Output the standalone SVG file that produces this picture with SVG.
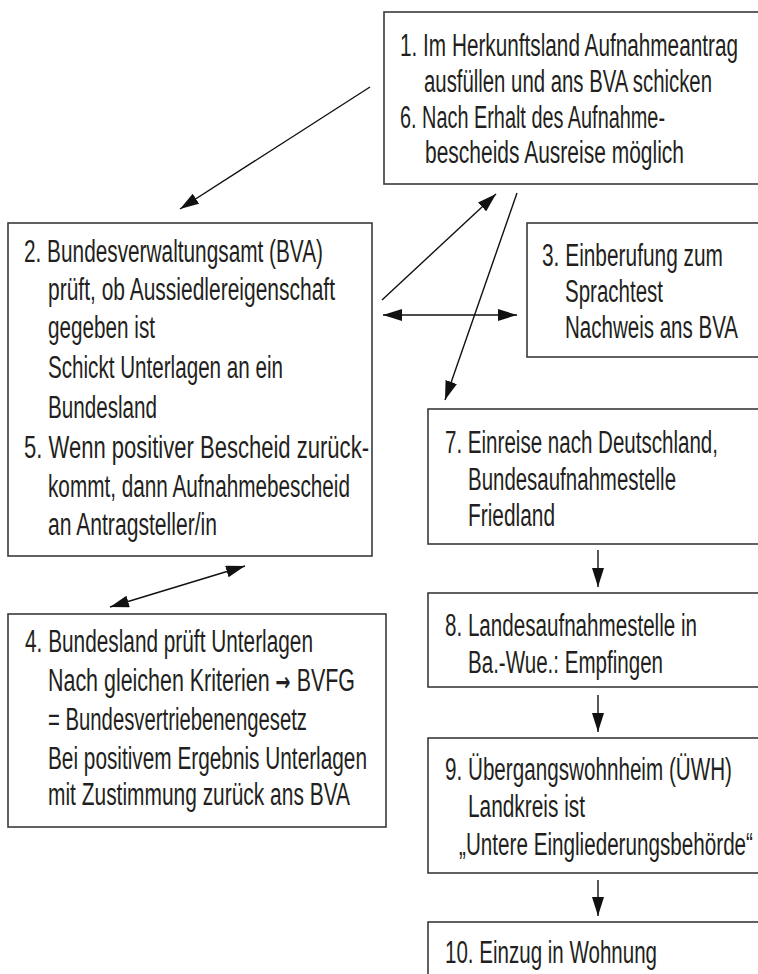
<svg xmlns="http://www.w3.org/2000/svg" width="758" height="974" viewBox="0 0 758 974">
<style>
.box{fill:#fff;stroke:#3a3a3a;stroke-width:1.6}
.t{font-family:"Liberation Sans",Arial,sans-serif;font-size:31px;fill:#231f20}
.c{stroke:#111;stroke-width:1.4;fill:none}
.ar{font-family:"DejaVu Sans",sans-serif;font-weight:bold;font-size:26px}
</style>
<defs>
<marker id="ah" markerUnits="userSpaceOnUse" markerWidth="19" markerHeight="12" refX="19" refY="6" orient="auto-start-reverse" viewBox="0 0 19 12">
<path d="M0,0 L19,6 L0,12 z" fill="#111"/>
</marker>
</defs>
<rect width="758" height="974" fill="#fff"/>
<g id="node1">
<rect class="box" x="384" y="12" width="390" height="172"/>
<text class="t" x="400" y="56" textLength="338" lengthAdjust="spacingAndGlyphs">1. Im Herkunftsland Aufnahmeantrag</text>
<text class="t" x="424" y="92" textLength="288" lengthAdjust="spacingAndGlyphs">ausfüllen und ans BVA schicken</text>
<text class="t" x="400" y="128" textLength="265" lengthAdjust="spacingAndGlyphs">6. Nach Erhalt des Aufnahme-</text>
<text class="t" x="425" y="163" textLength="259" lengthAdjust="spacingAndGlyphs">bescheids Ausreise möglich</text>
</g>
<g id="node2">
<rect class="box" x="8" y="223" width="364" height="333"/>
<text class="t" x="24" y="262" textLength="299" lengthAdjust="spacingAndGlyphs">2. Bundesverwaltungsamt (BVA)</text>
<text class="t" x="48" y="300" textLength="287" lengthAdjust="spacingAndGlyphs">prüft, ob Aussiedlereigenschaft</text>
<text class="t" x="48" y="338" textLength="107" lengthAdjust="spacingAndGlyphs">gegeben ist</text>
<text class="t" x="48" y="378" textLength="235" lengthAdjust="spacingAndGlyphs">Schickt Unterlagen an ein</text>
<text class="t" x="48" y="418" textLength="109" lengthAdjust="spacingAndGlyphs">Bundesland</text>
<text class="t" x="24" y="458" textLength="345" lengthAdjust="spacingAndGlyphs">5. Wenn positiver Bescheid zurück-</text>
<text class="t" x="48" y="497" textLength="302" lengthAdjust="spacingAndGlyphs">kommt, dann Aufnahmebescheid</text>
<text class="t" x="48" y="535" textLength="169" lengthAdjust="spacingAndGlyphs">an Antragsteller/in</text>
</g>
<g id="node3">
<rect class="box" x="527" y="223" width="250" height="134"/>
<text class="t" x="542" y="266" textLength="181" lengthAdjust="spacingAndGlyphs">3. Einberufung zum</text>
<text class="t" x="565" y="302" textLength="98" lengthAdjust="spacingAndGlyphs">Sprachtest</text>
<text class="t" x="565" y="338" textLength="173" lengthAdjust="spacingAndGlyphs">Nachweis ans BVA</text>
</g>
<g id="node4">
<rect class="box" x="8" y="614" width="378" height="213"/>
<text class="t" x="25" y="652" textLength="288" lengthAdjust="spacingAndGlyphs">4. Bundesland prüft Unterlagen</text>
<text class="t" x="48" y="691" textLength="307" lengthAdjust="spacingAndGlyphs">Nach gleichen Kriterien <tspan class="ar">→</tspan> BVFG</text>
<text class="t" x="48" y="730" textLength="259" lengthAdjust="spacingAndGlyphs">= Bundesvertriebenengesetz</text>
<text class="t" x="48" y="769" textLength="319" lengthAdjust="spacingAndGlyphs">Bei positivem Ergebnis Unterlagen</text>
<text class="t" x="48" y="805" textLength="302" lengthAdjust="spacingAndGlyphs">mit Zustimmung zurück ans BVA</text>
</g>
<g id="node7">
<rect class="box" x="428" y="409" width="350" height="135"/>
<text class="t" x="445" y="453" textLength="273" lengthAdjust="spacingAndGlyphs">7. Einreise nach Deutschland,</text>
<text class="t" x="468" y="490" textLength="208" lengthAdjust="spacingAndGlyphs">Bundesaufnahmestelle</text>
<text class="t" x="468" y="526" textLength="87" lengthAdjust="spacingAndGlyphs">Friedland</text>
</g>
<g id="node8">
<rect class="box" x="428" y="593" width="350" height="94"/>
<text class="t" x="445" y="636" textLength="252" lengthAdjust="spacingAndGlyphs">8. Landesaufnahmestelle in</text>
<text class="t" x="468" y="673" textLength="195" lengthAdjust="spacingAndGlyphs">Ba.-Wue.: Empfingen</text>
</g>
<g id="node9">
<rect class="box" x="428" y="738" width="350" height="135"/>
<text class="t" x="445" y="780" textLength="287" lengthAdjust="spacingAndGlyphs">9. Übergangswohnheim (ÜWH)</text>
<text class="t" x="468" y="817" textLength="117" lengthAdjust="spacingAndGlyphs">Landkreis ist</text>
<text class="t" x="459" y="855" textLength="294" lengthAdjust="spacingAndGlyphs">„Untere Eingliederungsbehörde“</text>
</g>
<g id="node10">
<rect class="box" x="428" y="922" width="350" height="80"/>
<text class="t" x="445" y="963" textLength="212" lengthAdjust="spacingAndGlyphs">10. Einzug in Wohnung</text>
</g>
<g id="connectors">
<line class="c" x1="370" y1="87" x2="180" y2="209" marker-end="url(#ah)"/>
<line class="c" x1="382" y1="300" x2="496" y2="194" marker-end="url(#ah)"/>
<line class="c" x1="383" y1="315" x2="517" y2="315" marker-start="url(#ah)" marker-end="url(#ah)"/>
<line class="c" x1="517" y1="193" x2="445" y2="400" marker-end="url(#ah)"/>
<line class="c" x1="245" y1="566" x2="110" y2="607" marker-start="url(#ah)" marker-end="url(#ah)"/>
<line class="c" x1="598" y1="550" x2="598" y2="587" marker-end="url(#ah)"/>
<line class="c" x1="598" y1="695" x2="598" y2="732" marker-end="url(#ah)"/>
<line class="c" x1="598" y1="880" x2="598" y2="916" marker-end="url(#ah)"/>
</g>
</svg>
